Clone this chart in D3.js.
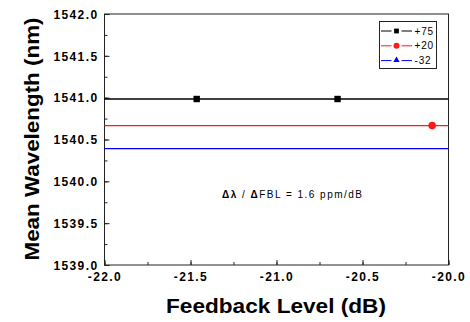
<!DOCTYPE html>
<html>
<head>
<meta charset="utf-8">
<script src="https://cdn.jsdelivr.net/npm/d3@7"></script>
<style>
  body { margin: 0; background: #fff; }
  svg { display: block; }
</style>
</head>
<body>
<svg id="svg" width="470" height="322"></svg>
<script>
// data
var seriesNames = ["+75", "+20", "-32"];
var seriesColors = ["#000000", "#ff1a1a", "#0000ff"];
var fitLevels = [1540.984, 1540.666, 1540.391];   // horizontal fit lines (nm)
var pointsX = [[-21.464, -20.645], [-20.095], []];  // feedback level (dB)
var pointsY = [[1540.984, 1540.984], [1540.666], []];
var xTicks = [-22.0, -21.5, -21.0, -20.5, -20.0];
var yTicks = [1539.0, 1539.5, 1540.0, 1540.5, 1541.0, 1541.5, 1542.0];

var svg = d3.select("#svg");
var plotL = 104.5, plotR = 448.5, plotT = 14, plotB = 265;

var x = d3.scaleLinear().domain([-22, -20]).range([plotL, plotR]);
var y = d3.scaleLinear().domain([1539, 1542]).range([plotB, plotT]);

var fmt = function(d) { return d.toFixed(1); };

// frame
svg.append("rect")
  .attr("x", plotL).attr("y", plotT)
  .attr("width", plotR - plotL).attr("height", plotB - plotT)
  .attr("fill", "none").attr("stroke", "#222").attr("stroke-width", 1);

// minor ticks (inside)
var xMinor = d3.range(-22, -19.99, 0.25);
var yMinor = d3.range(1539, 1542.01, 0.25);
svg.append("g").attr("transform", "translate(0," + plotB + ")")
  .call(d3.axisBottom(x).tickValues(xMinor).tickSize(-3).tickFormat(""))
  .call(function(g) { g.select(".domain").remove(); g.selectAll("line").attr("stroke", "#222"); });
svg.append("g").attr("transform", "translate(" + plotL + ",0)")
  .call(d3.axisLeft(y).tickValues(yMinor).tickSize(-3).tickFormat(""))
  .call(function(g) { g.select(".domain").remove(); g.selectAll("line").attr("stroke", "#222"); });

// major ticks + labels
var xAxis = svg.append("g").attr("transform", "translate(0," + plotB + ")")
  .call(d3.axisBottom(x).tickValues(xTicks).tickSize(-5).tickFormat(fmt));
var yAxis = svg.append("g").attr("transform", "translate(" + plotL + ",0)")
  .call(d3.axisLeft(y).tickValues(yTicks).tickSize(-5).tickFormat(fmt));

[xAxis, yAxis].forEach(function(g) {
  g.select(".domain").remove();
  g.selectAll("line").attr("stroke", "#222");
  g.selectAll("text")
    .attr("fill", "#000")
    .style("font-family", "'Liberation Sans', Arial, sans-serif")
    .style("font-weight", "bold")
    .style("font-size", "12px")
    .style("letter-spacing", "1.4px");
});
xAxis.selectAll("text").attr("y", 7).attr("dy", "0.71em");
yAxis.selectAll("text").attr("x", -6).attr("dy", "0.35em");

// fit lines
svg.append("g").selectAll("line")
  .data(fitLevels)
  .join("line")
  .attr("x1", plotL).attr("x2", plotR)
  .attr("y1", function(d) { return y(d); })
  .attr("y2", function(d) { return y(d); })
  .attr("stroke", function(d, i) { return seriesColors[i]; })
  .attr("stroke-width", 1.3);

// markers
function drawMarker(g, i, cx, cy, s) {
  if (i === 0) {
    g.append("rect").attr("x", cx - s).attr("y", cy - s)
      .attr("width", 2 * s).attr("height", 2 * s).attr("fill", seriesColors[i]);
  } else if (i === 1) {
    g.append("circle").attr("cx", cx).attr("cy", cy).attr("r", s + 0.6).attr("fill", seriesColors[i]);
  } else {
    g.append("path")
      .attr("d", d3.symbol(d3.symbolTriangle, (s * 2.6) * (s * 2.6) * 0.45)())
      .attr("transform", "translate(" + cx + "," + (cy - 0.5) + ")")
      .attr("fill", seriesColors[i]);
  }
}
var pts = svg.append("g");
pointsX.forEach(function(xs, i) {
  xs.forEach(function(xv, j) {
    drawMarker(pts, i, x(xv), y(pointsY[i][j]), 3.2);
  });
});

// legend
var legend = svg.append("g");
legend.append("rect")
  .attr("x", 379.5).attr("y", 21.5).attr("width", 57).attr("height", 47)
  .attr("fill", "#fff").attr("stroke", "#222").attr("stroke-width", 1);
seriesNames.forEach(function(name, i) {
  var ly = 31 + i * 14.8;
  [[381, 391.5], [401.5, 412]].forEach(function(seg) {
    legend.append("line")
      .attr("x1", seg[0]).attr("x2", seg[1]).attr("y1", ly).attr("y2", ly)
      .attr("stroke", seriesColors[i]).attr("stroke-width", 1);
  });
  drawMarker(legend, i, 396.5, ly, 2.4);
  legend.append("text")
    .attr("x", 414.5).attr("y", ly).attr("dy", "0.36em")
    .style("font-family", "'Liberation Sans', Arial, sans-serif")
    .style("font-size", "10px")
    .style("letter-spacing", "0.8px")
    .text(name);
});

// annotation
var ann = svg.append("text")
  .attr("x", 222).attr("y", 198)
  .attr("textLength", 140).attr("lengthAdjust", "spacing")
  .style("font-family", "'Liberation Sans', Arial, sans-serif")
  .style("font-size", "10px");
ann.append("tspan").style("font-weight", "bold").text("Δλ");
ann.append("tspan").text(" / ");
ann.append("tspan").style("font-weight", "bold").text("Δ");
ann.append("tspan").text("FBL = 1.6 ppm/dB");

// axis titles
svg.append("text")
  .attr("x", 276).attr("y", 313)
  .attr("text-anchor", "middle")
  .attr("textLength", 220).attr("lengthAdjust", "spacingAndGlyphs")
  .style("font-family", "'Liberation Sans', Arial, sans-serif")
  .style("font-weight", "bold").style("font-size", "21px")
  .text("Feedback Level (dB)");

svg.append("text")
  .attr("transform", "translate(39,139) rotate(-90)")
  .attr("text-anchor", "middle")
  .attr("textLength", 243).attr("lengthAdjust", "spacingAndGlyphs")
  .style("font-family", "'Liberation Sans', Arial, sans-serif")
  .style("font-weight", "bold").style("font-size", "21px")
  .text("Mean Wavelength (nm)");
</script>
</body>
</html>
